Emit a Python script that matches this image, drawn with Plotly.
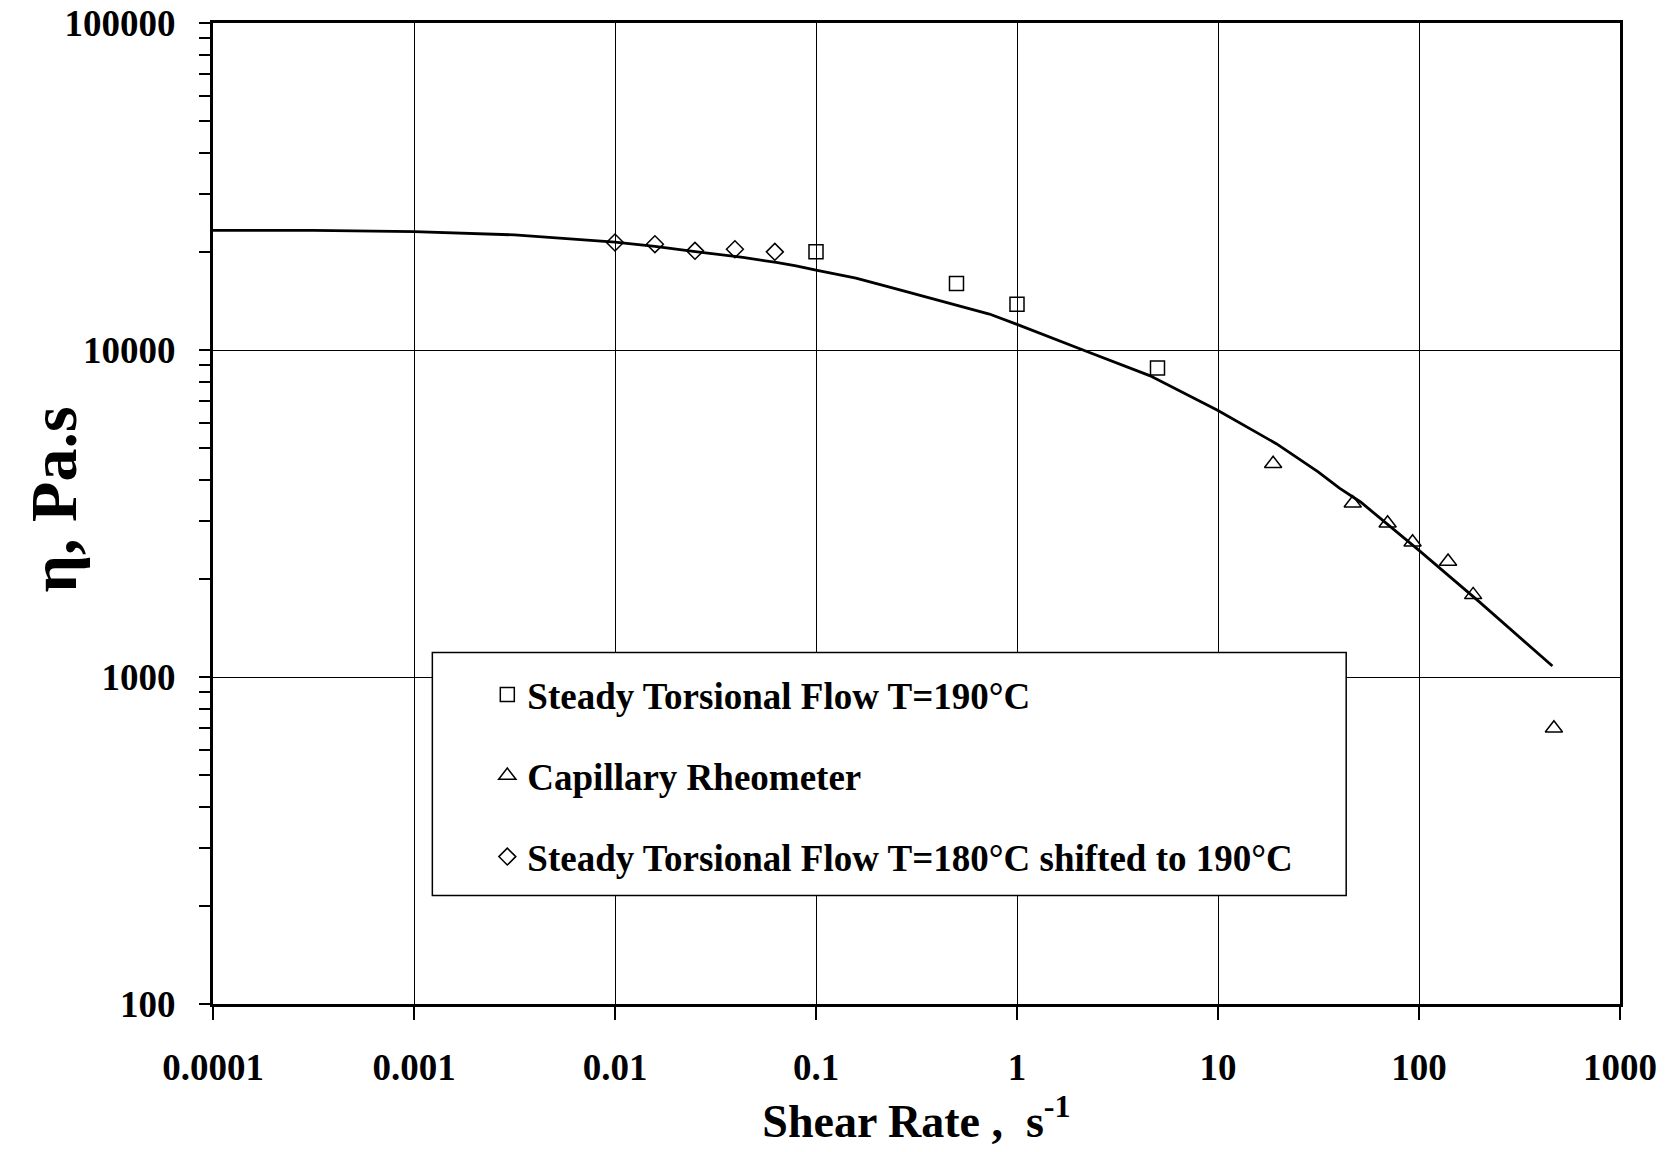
import plotly.graph_objects as go

# ---------------- data ----------------
fit_rate = [1e-4, 3.16e-4, 1e-3, 3.16e-3, 0.01, 0.0158, 0.0251, 0.0433, 0.0634, 0.0796,
            0.1, 0.158, 0.24, 0.41, 0.556, 0.729, 1.0, 1.64, 2.13, 4.57,
            10, 19.5, 31.5, 40.2, 51.2, 100, 199, 461]
fit_eta = [23230, 23210, 23030, 22490, 21360, 20730, 20000, 19190, 18520, 18080,
           17550, 16590, 15490, 14150, 13430, 12880, 11980, 10680, 10000, 8350,
           6530, 5170, 4240, 3780, 3430, 2440, 1700, 1080]

torsion190_rate = [0.1, 0.5, 1.0, 5.0]
torsion190_eta = [19960, 15980, 13790, 8810]

capillary_rate = [18.8, 46.8, 69.8, 92.9, 139.5, 186, 469]
capillary_eta = [4487, 3398, 2951, 2582, 2254, 1783, 697]

torsion180_rate = [0.01, 0.0158, 0.025, 0.0395, 0.0624]
torsion180_eta = [21320, 21070, 20100, 20340, 19960]

x_tickvals = [0.0001, 0.001, 0.01, 0.1, 1, 10, 100, 1000]
x_ticktext = ["0.0001", "0.001", "0.01", "0.1", "1", "10", "100", "1000"]
y_tickvals = [100, 1000, 10000, 100000]
y_ticktext = ["100", "1000", "10000", "100000"]

series_names = ["Steady Torsional Flow T=190°C",
                "Capillary Rheometer",
                "Steady Torsional Flow T=180°C shifted to 190°C"]

# ---------------- layout geometry (pixels) ----------------
W, H = 1666, 1152
L, R, T, B = 212.5, 1620.5, 23.4, 1004.0
FONT = "Liberation Serif, Times New Roman, serif"


def px_x(X):
    return (X - L) / (R - L)


def px_y(Y):
    return (B - Y) / (B - T)


fig = go.Figure()

fig.add_trace(go.Scatter(
    x=fit_rate, y=fit_eta, mode="lines", name="Model fit",
    line=dict(color="black", width=2.8), showlegend=False))

fig.add_trace(go.Scatter(
    x=torsion190_rate, y=torsion190_eta, mode="markers", name=series_names[0],
    legendgroup="a",
    marker=dict(symbol="square-open", size=14, color="black", line=dict(width=1.5))))

fig.add_trace(go.Scatter(
    x=capillary_rate, y=capillary_eta, mode="markers", name=series_names[1],
    legendgroup="b",
    marker=dict(symbol="triangle-up-open", size=15, color="black", line=dict(width=1.5))))

fig.add_trace(go.Scatter(
    x=torsion180_rate, y=torsion180_eta, mode="markers", name=series_names[2],
    legendgroup="c",
    marker=dict(symbol="diamond-open", size=13, color="black", line=dict(width=1.5))))

# legend frame (white box covering the grid)
fig.add_shape(type="rect", xref="paper", yref="paper",
              x0=px_x(432), x1=px_x(1346.5), y0=px_y(895.5), y1=px_y(652.7),
              fillcolor="white", line=dict(color="black", width=1.5), layer="above")

fig.update_layout(
    width=W, height=H,
    margin=dict(l=L, r=W - R, t=T, b=H - B, pad=0, autoexpand=False),
    paper_bgcolor="white", plot_bgcolor="white",
    font=dict(family=FONT, color="black", size=37, weight="bold"),
    showlegend=True,
    legend=dict(
        x=px_x(487), y=px_y(664), xanchor="left", yanchor="top",
        bgcolor="rgba(0,0,0,0)", borderwidth=0,
        font=dict(family=FONT, size=37, color="black", weight="bold"),
        tracegroupgap=30, itemwidth=30,
    ),
)

fig.update_xaxes(
    type="log", range=[-4, 3], automargin=False,
    tickvals=x_tickvals, ticktext=x_ticktext,
    showgrid=True, gridcolor="black", gridwidth=1,
    showline=True, linecolor="black", linewidth=3, mirror=True,
    ticks="outside", ticklen=13, tickwidth=1.5, tickcolor="black",
    ticklabelstandoff=16,
    tickfont=dict(family=FONT, size=37, color="black", weight="bold"),
    zeroline=False,
    title=dict(text="Shear Rate\u00a0,\u00a0\u00a0s<sup>-1</sup>",
               font=dict(family=FONT, size=46, color="black", weight="bold"),
               standoff=14),
)

fig.update_yaxes(
    type="log", range=[2, 5], automargin=False,
    tickvals=y_tickvals, ticktext=y_ticktext,
    showgrid=True, gridcolor="black", gridwidth=1,
    showline=True, linecolor="black", linewidth=3, mirror=True,
    ticks="outside", ticklen=11, tickwidth=1.5, tickcolor="black",
    ticklabelstandoff=16,
    tickfont=dict(family=FONT, size=37, color="black", weight="bold"),
    minor=dict(ticks="outside", ticklen=11, tickwidth=1.5, tickcolor="black",
               dtick="D1", showgrid=False),
    zeroline=False,
)

fig.add_annotation(
    text="η, Pa.s", xref="paper", yref="paper",
    x=px_x(53), y=px_y(500), xanchor="center", yanchor="middle",
    textangle=-90, showarrow=False,
    font=dict(family=FONT, size=66, color="black", weight="bold"),
)

fig.write_html("out.html")
